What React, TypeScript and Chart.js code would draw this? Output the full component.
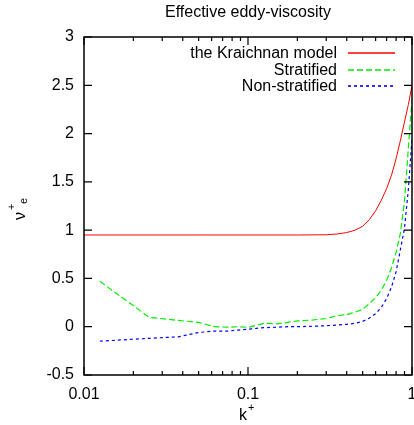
import React, { useEffect, useRef } from "react";
import { Chart, registerables } from "chart.js";

Chart.register(...registerables);

// ---- data ----
const kModel = [0.01, 0.05, 0.1, 0.2, 0.3, 0.35, 0.4, 0.45, 0.5, 0.55, 0.6, 0.65, 0.7, 0.75, 0.8, 0.85, 0.9, 0.95, 1.0];
const kraichnan = [0.95, 0.95, 0.95, 0.95, 0.952, 0.96, 0.975, 1.0, 1.04, 1.11, 1.2, 1.31, 1.43, 1.57, 1.74, 1.93, 2.12, 2.3, 2.5];

const kData = [0.0125, 0.025, 0.0375, 0.05, 0.0625, 0.075, 0.0875, 0.1, 0.1125, 0.125, 0.15, 0.175, 0.2, 0.25, 0.3, 0.35, 0.4, 0.45, 0.5, 0.55, 0.6, 0.65, 0.7, 0.75, 0.8, 0.85, 0.9, 0.95, 1.0];
const stratified = [0.47, 0.097, 0.065, 0.045, 0.0, -0.005, 0.0, -0.007, 0.015, 0.035, 0.03, 0.045, 0.06, 0.07, 0.085, 0.115, 0.125, 0.15, 0.18, 0.24, 0.3, 0.38, 0.48, 0.61, 0.77, 0.97, 1.3, 1.85, 2.35];
const nonStratified = [-0.15, -0.12, -0.105, -0.06, -0.045, -0.045, -0.035, -0.027, -0.017, -0.01, -0.005, 0.0, 0.0, 0.005, 0.01, 0.017, 0.025, 0.035, 0.055, 0.09, 0.135, 0.2, 0.29, 0.41, 0.57, 0.8, 1.02, 1.42, 1.95];

const seriesLabels = ["the Kraichnan model", "Stratified", "Non-stratified"];
const seriesColors = ["#ff0000", "#00ee00", "#0000ff"];
const xMajorTicks = [0.01, 0.1, 1];
const xTickLabels = ["0.01", "0.1", "1"];
const xMinorTicks = [0.02, 0.03, 0.04, 0.05, 0.06, 0.07, 0.08, 0.09, 0.2, 0.3, 0.4, 0.5, 0.6, 0.7, 0.8, 0.9];
const yTicks = [-0.5, 0, 0.5, 1, 1.5, 2, 2.5, 3];
const yTickLabels = ["-0.5", "0", "0.5", "1", "1.5", "2", "2.5", "3"];
const titleText = "Effective eddy-viscosity";

const FONT = '"Liberation Sans", Arial, Helvetica, sans-serif';

const gnuplotDecor = {
  id: "gnuplotDecor",
  afterDatasetsDraw(chart: any) {
    const { ctx, chartArea } = chart;
    const xs = chart.scales.x;
    const ys = chart.scales.y;
    const { left, right, top, bottom } = chartArea;
    ctx.save();

    // border
    ctx.strokeStyle = "#000";
    ctx.lineWidth = 1.5;
    ctx.strokeRect(left, top, right - left, bottom - top);

    // ticks
    ctx.lineWidth = 1.2;
    ctx.beginPath();
    yTicks.forEach((v) => {
      const y = ys.getPixelForValue(v);
      ctx.moveTo(left, y);
      ctx.lineTo(left + 8, y);
      ctx.moveTo(right, y);
      ctx.lineTo(right - 8, y);
    });
    xMajorTicks.forEach((v) => {
      const x = xs.getPixelForValue(v);
      ctx.moveTo(x, bottom);
      ctx.lineTo(x, bottom - 8);
      ctx.moveTo(x, top);
      ctx.lineTo(x, top + 8);
    });
    xMinorTicks.forEach((v) => {
      const x = xs.getPixelForValue(v);
      ctx.moveTo(x, bottom);
      ctx.lineTo(x, bottom - 4);
      ctx.moveTo(x, top);
      ctx.lineTo(x, top + 4);
    });
    ctx.stroke();

    // tick labels
    ctx.fillStyle = "#000";
    ctx.font = `16px ${FONT}`;
    ctx.textAlign = "right";
    ctx.textBaseline = "middle";
    yTicks.forEach((v, i) => {
      ctx.fillText(yTickLabels[i], left - 10, ys.getPixelForValue(v));
    });
    ctx.textAlign = "center";
    xMajorTicks.forEach((v, i) => {
      ctx.fillText(xTickLabels[i], xs.getPixelForValue(v), bottom + 20);
    });

    // title
    ctx.font = `16px ${FONT}`;
    ctx.fillText(titleText, (left + right) / 2, 13);

    // x axis label k+
    const cx = (left + right) / 2;
    ctx.textAlign = "left";
    ctx.textBaseline = "alphabetic";
    ctx.font = `16px ${FONT}`;
    ctx.fillText("k", cx - 9, 420);
    ctx.font = `11px ${FONT}`;
    ctx.fillText("+", cx, 411);

    // y axis label nu+e (rotated)
    ctx.save();
    ctx.translate(25, 220);
    ctx.rotate(-Math.PI / 2);
    ctx.font = `16px ${FONT}`;
    ctx.fillText("\u03bd", 0, 0);
    const w = ctx.measureText("\u03bd").width;
    ctx.font = `11px ${FONT}`;
    ctx.fillText("+", w + 2, -10);
    ctx.fillText("e", w + 8, 2);
    ctx.restore();

    // legend
    ctx.font = `16px ${FONT}`;
    ctx.textAlign = "right";
    ctx.textBaseline = "middle";
    chart.data.datasets.forEach((ds: any, i: number) => {
      const y = 54 + i * 16.5;
      ctx.fillStyle = "#000";
      ctx.fillText(ds.label, 337, y);
      const ly = Math.round(y - 1);
      ctx.strokeStyle = seriesColors[i];
      ctx.lineWidth = 1.6;
      ctx.setLineDash(ds.borderDash || []);
      ctx.beginPath();
      ctx.moveTo(348, ly);
      ctx.lineTo(395, ly);
      ctx.stroke();
      ctx.setLineDash([]);
    });

    ctx.restore();
  },
};

export default function App() {
  const ref = useRef<HTMLCanvasElement>(null);
  useEffect(() => {
    if (!ref.current) return;
    const chart = new Chart(ref.current, {
      type: "line",
      data: {
        datasets: [
          {
            label: seriesLabels[0],
            data: kModel.map((k, i) => ({ x: k, y: kraichnan[i] })),
            borderColor: seriesColors[0],
            borderWidth: 1,
            pointRadius: 0,
            tension: 0,
          },
          {
            label: seriesLabels[1],
            data: kData.map((k, i) => ({ x: k, y: stratified[i] })),
            borderColor: seriesColors[1],
            borderWidth: 1.2,
            borderDash: [6, 3],
            pointRadius: 0,
            tension: 0,
          },
          {
            label: seriesLabels[2],
            data: kData.map((k, i) => ({ x: k, y: nonStratified[i] })),
            borderColor: seriesColors[2],
            borderWidth: 1.2,
            borderDash: [3, 3],
            pointRadius: 0,
            tension: 0,
          },
        ],
      },
      options: {
        animation: false,
        responsive: false,
        devicePixelRatio: 1,
        layout: { padding: { left: 84, top: 37, right: 2, bottom: 50 } },
        plugins: { legend: { display: false }, title: { display: false }, tooltip: { enabled: false } },
        scales: {
          x: { type: "logarithmic", min: 0.01, max: 1, display: false },
          y: { type: "linear", min: -0.5, max: 3, display: false },
        },
      },
      plugins: [gnuplotDecor],
    });
    return () => chart.destroy();
  }, []);
  return (
    <div style={{ position: "absolute", left: 0, top: 0, width: 414, height: 425, background: "#fff" }}>
      <canvas ref={ref} width={414} height={425} />
    </div>
  );
}
